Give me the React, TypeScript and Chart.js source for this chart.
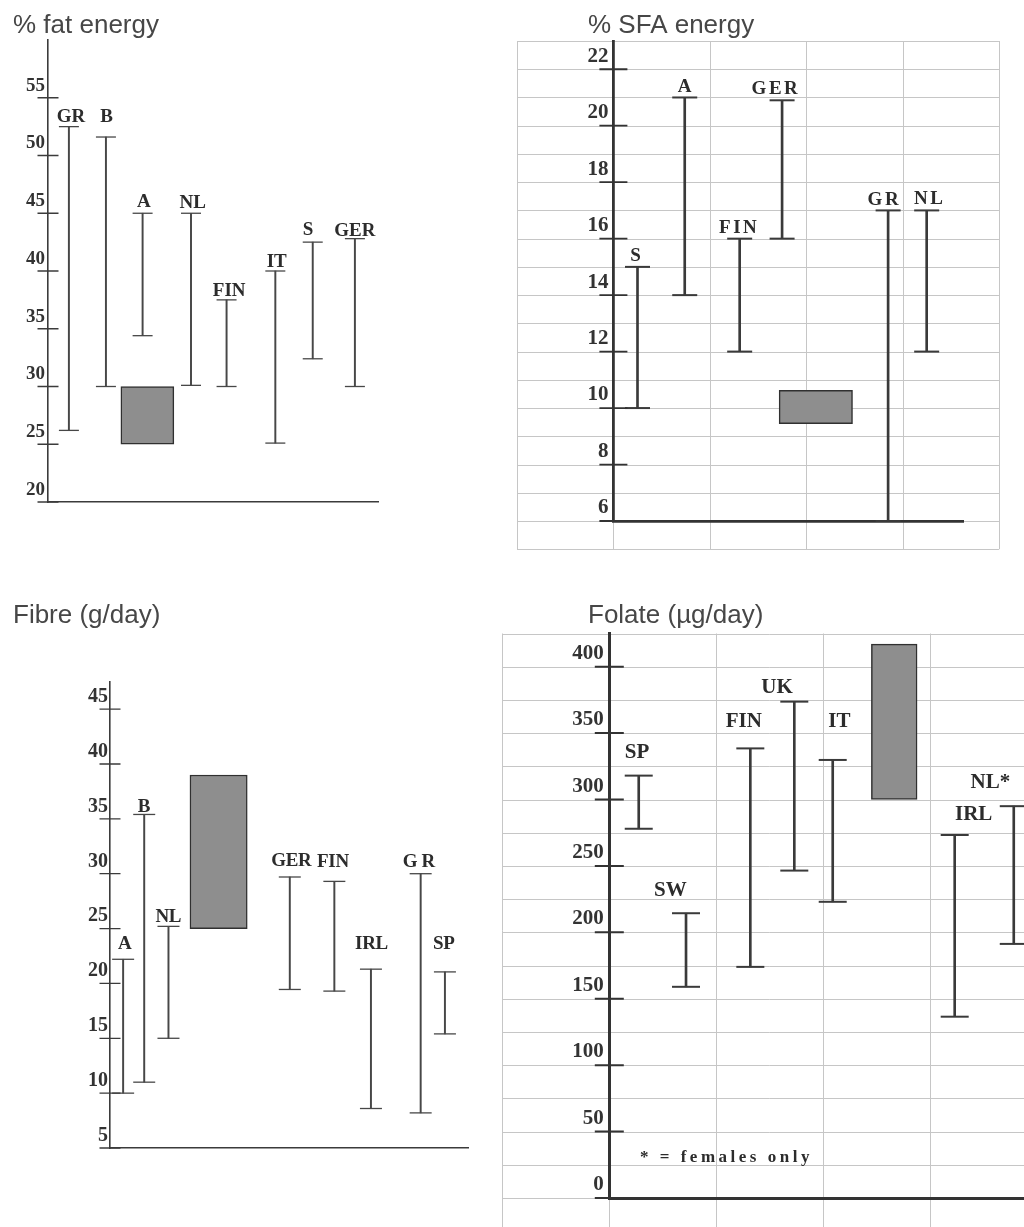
import React, { useEffect, useRef } from 'react';
import { Chart, registerables } from 'chart.js';

Chart.register(...registerables);
Chart.defaults.font.family = '"Liberation Serif", serif';

// ---------------- data ----------------
// % fat energy
const fatCountries = ['GR', 'B', 'A', 'NL', 'FIN', 'IT', 'S', 'GER'];
const fatLow = [26.2, 30, 34.4, 30.1, 30, 25.1, 32.4, 30];
const fatHigh = [52.5, 51.6, 45, 45, 37.5, 40, 42.5, 42.8];
const fatSlot = [0.57, 1.58, 2.58, 3.9, 4.87, 6.2, 7.22, 8.37];
const fatGoal = [25, 30];
const fatGoalSlot = 2.71;
const fatTicks = [20, 25, 30, 35, 40, 45, 50, 55];

// % SFA energy
const sfaCountries = ['S', 'A', 'FIN', 'GER', 'GR', 'NL'];
const sfaLow = [10, 14, 12, 16, 6, 12];
const sfaHigh = [15, 21, 16, 20.9, 17, 17];
const sfaSlot = [1.25, 1.74, 2.31, 2.75, 3.85, 4.25];
const sfaGoal = [9.45, 10.63];
const sfaGoalSlot = 3.1;
const sfaTicks = [6, 8, 10, 12, 14, 16, 18, 20, 22];

// Fibre (g/day)
const fibreCountries = ['A', 'B', 'NL', 'GER', 'FIN', 'IRL', 'G R', 'SP'];
const fibreLow = [10, 11, 15, 19.45, 19.3, 8.6, 8.2, 15.4];
const fibreHigh = [22.2, 35.4, 25.2, 29.7, 29.3, 21.3, 30, 21.05];
const fibreSlot = [0.33, 0.86, 1.47, 4.52, 5.64, 6.56, 7.81, 8.42];
const fibreGoal = [25, 39];
const fibreGoalSlot = 2.73;
const fibreTicks = [5, 10, 15, 20, 25, 30, 35, 40, 45];

// Folate (µg/day)
const folateCountries = ['SP', 'SW', 'FIN', 'UK', 'IT', 'IRL', 'NL*'];
const folateLow = [278, 159, 174, 246.5, 223, 136.5, 191.3];
const folateHigh = [318, 214.4, 338.5, 373.7, 329.8, 273.3, 295];
const folateSlot = [1.275, 1.717, 2.318, 2.729, 3.088, 4.228, 4.78];
const folateGoal = [300, 417];
const folateGoalSlot = 3.663;
const folateTicks = [0, 50, 100, 150, 200, 250, 300, 350, 400];
const folateNote = '* = females only';

// ---------------- styles ----------------
const BOX_FILL = '#8e8e8e';
const BOX_EDGE = '#303030';
const GRID = '#c6c6c6';
const TEXT = '#2c2c2c';
const TITLE = '#474747';

type Panel = any;

const panels: Panel[] = [
  {
    id: 'fat', left: 0, top: 0, w: 400, h: 560,
    padding: { left: 8, right: 22, top: 40, bottom: 58 }, yAxisWidth: 40,
    xMin: 0, xMax: 9, yMin: 20, yMax: 60,
    labels: fatCountries, low: fatLow, high: fatHigh, slots: fatSlot,
    goal: fatGoal, goalSlot: fatGoalSlot, ticks: fatTicks,
    title: '% fat energy', titleX: 13, titleY: 33,
    lineWidth: 1.3, lineColor: '#474747', axisWidth: 1.6, axisColor: '#3b3b3b',
    capR: 10, tickHalf: 10.5, tickWidth: 1.3,
    tickFont: 19, tickPadding: 3, tickOffset: -12,
    labelFont: 'bold 19px "Liberation Serif"', labelSpacing: 0, boxWidth: 53,
    labelDx: [2, 0.7, 1.3, 1.7, 2.6, 1.4, -4.7, 0],
    labelGap: [5, 15, 6.7, 5.7, 4, 4.3, 6.7, 2.7],
  },
  {
    id: 'sfa', left: 500, top: 0, w: 520, h: 560,
    padding: { left: 53.4, right: 56.7, top: 41, bottom: 39 }, yAxisWidth: 60,
    xMin: 1, xMax: 4.63, yMin: 6, yMax: 23,
    labels: sfaCountries, low: sfaLow, high: sfaHigh, slots: sfaSlot,
    goal: sfaGoal, goalSlot: sfaGoalSlot, ticks: sfaTicks,
    title: '% SFA energy', titleX: 88, titleY: 32.5,
    lineWidth: 2, lineColor: '#3a3a3a', axisWidth: 2.8, axisColor: '#333333',
    capR: 12.5, tickHalf: 14, tickWidth: 1.8,
    tickFont: 21, tickPadding: 5, tickOffset: -13,
    labelFont: 'bold 19px "Liberation Serif"', labelSpacing: 2.5, boxWidth: 73.4,
    labelDx: [-2, 0, -1.7, -7.4, -5, 1.7],
    labelGap: [5.7, 5.7, 6, 6.7, 5.3, 6.3],
    grid: { xFrom: 0, xTo: 5, xStep: 1, yFrom: 5, yTo: 23, yStep: 1 },
  },
  {
    id: 'fibre', left: 0, top: 590, w: 480, h: 590,
    padding: { left: 50, right: 12, top: 91.7, bottom: 32 }, yAxisWidth: 60,
    xMin: 0, xMax: 9, yMin: 5, yMax: 47.5,
    labels: fibreCountries, low: fibreLow, high: fibreHigh, slots: fibreSlot,
    goal: fibreGoal, goalSlot: fibreGoalSlot, ticks: fibreTicks,
    title: 'Fibre (g/day)', titleX: 13, titleY: 33,
    lineWidth: 1.3, lineColor: '#474747', axisWidth: 1.6, axisColor: '#3b3b3b',
    capR: 11, tickHalf: 10.5, tickWidth: 1.3,
    tickFont: 20, tickPadding: 2, tickOffset: -12.3,
    labelFont: 'bold 19px "Liberation Serif"', labelSpacing: -0.3, boxWidth: 57.3,
    labelDx: [1.7, 0, 0, 1.7, -1.3, 0.7, -1.7, -1],
    labelGap: [10.7, 2.6, 4, 10.6, 14.6, 20, 7, 23],
  },
  {
    id: 'folate', left: 496, top: 590, w: 560, h: 637,
    padding: { left: 53.3, right: 18.7, top: 43.5, bottom: 29 }, yAxisWidth: 60,
    xMin: 1, xMax: 5, yMin: 0, yMax: 425,
    labels: folateCountries, low: folateLow, high: folateHigh, slots: folateSlot,
    goal: folateGoal, goalSlot: folateGoalSlot, ticks: folateTicks,
    title: 'Folate (µg/day)', titleX: 92, titleY: 32.5,
    lineWidth: 2, lineColor: '#3a3a3a', axisWidth: 3, axisColor: '#333333',
    capR: 14, tickHalf: 14.5, tickWidth: 2,
    tickFont: 21, tickPadding: 5.5, tickOffset: -13.3,
    labelFont: 'bold 21px "Liberation Serif"', labelSpacing: 0, boxWidth: 45.7,
    labelDx: [-1.7, -15.7, -6.6, -17.3, 6.6, 19, -23.4],
    labelGap: [17.4, 17.3, 21.6, 8.4, 33.3, 15, 17.7],
    grid: { xFrom: 0, xTo: 5, xStep: 1, yFrom: -25, yTo: 425, yStep: 25 },
    note: { text: folateNote, x: 1.287, y: 27.3, font: 'bold 17px "Liberation Serif"', spacing: 3.5 },
  },
];

function decorPlugin(p: Panel) {
  return {
    id: 'decor_' + p.id,
    beforeDraw(chart: any) {
      const g = p.grid;
      if (!g) return;
      const { ctx } = chart;
      const x = chart.scales.x;
      const y = chart.scales.y;
      const x0 = x.getPixelForValue(g.xFrom);
      const x1 = x.getPixelForValue(g.xTo);
      const y0 = y.getPixelForValue(g.yFrom);
      const y1 = y.getPixelForValue(g.yTo);
      ctx.save();
      ctx.strokeStyle = GRID;
      ctx.lineWidth = 1;
      ctx.beginPath();
      for (let v = g.yFrom; v <= g.yTo + 1e-9; v += g.yStep) {
        const py = Math.round(y.getPixelForValue(v)) + 0.5;
        ctx.moveTo(x0, py);
        ctx.lineTo(x1, py);
      }
      for (let v = g.xFrom; v <= g.xTo + 1e-9; v += g.xStep) {
        const px = Math.round(x.getPixelForValue(v)) + 0.5;
        ctx.moveTo(px, y0);
        ctx.lineTo(px, y1);
      }
      ctx.stroke();
      ctx.restore();
    },
    afterDraw(chart: any) {
      const { ctx } = chart;
      const x = chart.scales.x;
      const y = chart.scales.y;
      const ax = x.getPixelForValue(p.xMin);
      ctx.save();
      // tick marks crossing the axis
      ctx.strokeStyle = p.axisColor;
      ctx.lineWidth = p.tickWidth;
      ctx.beginPath();
      p.ticks.forEach((v: number) => {
        const py = y.getPixelForValue(v);
        ctx.moveTo(ax - p.tickHalf, py);
        ctx.lineTo(ax + p.tickHalf, py);
      });
      ctx.stroke();
      // country labels
      ctx.fillStyle = TEXT;
      ctx.font = p.labelFont;
      ctx.textAlign = 'center';
      ctx.textBaseline = 'alphabetic';
      (ctx as any).letterSpacing = p.labelSpacing + 'px';
      p.labels.forEach((t: string, i: number) => {
        const px = x.getPixelForValue(p.slots[i]) + p.labelDx[i] + p.labelSpacing / 2;
        const py = y.getPixelForValue(p.high[i]) - p.labelGap[i];
        ctx.fillText(t, px, py);
      });
      (ctx as any).letterSpacing = '0px';
      // note
      if (p.note) {
        ctx.font = p.note.font;
        ctx.textAlign = 'left';
        (ctx as any).letterSpacing = p.note.spacing + 'px';
        ctx.fillText(p.note.text, x.getPixelForValue(p.note.x), y.getPixelForValue(p.note.y));
        (ctx as any).letterSpacing = '0px';
      }
      // title
      ctx.fillStyle = TITLE;
      ctx.font = '26px "Liberation Sans", Arial, sans-serif';
      ctx.textAlign = 'left';
      ctx.fillText(p.title, p.titleX, p.titleY);
      ctx.restore();
    },
  };
}

function buildConfig(p: Panel): any {
  const whiskers = p.slots.map((s: number, i: number) => ({ x: s, y: [p.low[i], p.high[i]] }));
  const caps = [
    ...p.slots.map((s: number, i: number) => ({ x: s, y: p.low[i] })),
    ...p.slots.map((s: number, i: number) => ({ x: s, y: p.high[i] })),
  ];
  return {
    type: 'bar',
    data: {
      datasets: [
        {
          type: 'bar', data: whiskers, backgroundColor: p.lineColor, borderWidth: 0,
          barThickness: p.lineWidth, grouped: false, clip: false,
        },
        {
          type: 'scatter', data: caps, pointStyle: 'line', pointRadius: p.capR,
          pointHoverRadius: p.capR, borderColor: p.lineColor, pointBorderColor: p.lineColor,
          backgroundColor: p.lineColor, pointBorderWidth: p.lineWidth,
          pointHoverBorderWidth: p.lineWidth, showLine: false, clip: false,
        },
        {
          type: 'bar', data: [{ x: p.goalSlot, y: p.goal }], backgroundColor: BOX_FILL,
          borderColor: BOX_EDGE, borderWidth: 1.5, borderSkipped: false,
          barThickness: p.boxWidth, grouped: false, clip: false,
        },
      ],
    },
    options: {
      responsive: false,
      animation: false,
      events: [],
      layout: { padding: p.padding, autoPadding: false },
      plugins: { legend: { display: false }, tooltip: { enabled: false }, title: { display: false } },
      scales: {
        x: {
          type: 'linear', min: p.xMin, max: p.xMax, offset: false,
          grid: { display: false, drawTicks: false },
          ticks: { display: false },
          border: { display: true, color: p.axisColor, width: p.axisWidth },
          afterFit: (s: any) => { s.height = 0; },
        },
        y: {
          type: 'linear', min: p.yMin, max: p.yMax,
          grid: { display: false, drawTicks: false },
          border: { display: true, color: p.axisColor, width: p.axisWidth },
          ticks: {
            autoSkip: false,
            color: '#333333',
            padding: p.tickPadding,
            labelOffset: p.tickOffset,
            font: { family: '"Liberation Serif", serif', size: p.tickFont, weight: 'bold' },
          },
          afterBuildTicks: (s: any) => { s.ticks = p.ticks.map((v: number) => ({ value: v })); },
          afterFit: (s: any) => { s.width = p.yAxisWidth; },
        },
      },
    },
    plugins: [decorPlugin(p)],
  };
}

function PanelChart({ p }: { p: Panel }) {
  const ref = useRef<HTMLCanvasElement>(null);
  useEffect(() => {
    const chart = new Chart(ref.current as HTMLCanvasElement, buildConfig(p));
    return () => chart.destroy();
  }, [p]);
  return (
    <canvas
      ref={ref}
      width={p.w}
      height={p.h}
      style={{ position: 'absolute', left: p.left, top: p.top, width: p.w, height: p.h }}
    />
  );
}

export default function App() {
  useEffect(() => {
    document.documentElement.style.overflow = 'hidden';
    document.body.style.margin = '0';
  }, []);
  return (
    <div
      style={{
        position: 'absolute', left: 0, top: 0, width: 1024, height: 1227,
        overflow: 'hidden', background: '#ffffff',
      }}
    >
      {panels.map((p) => (
        <PanelChart key={p.id} p={p} />
      ))}
    </div>
  );
}
